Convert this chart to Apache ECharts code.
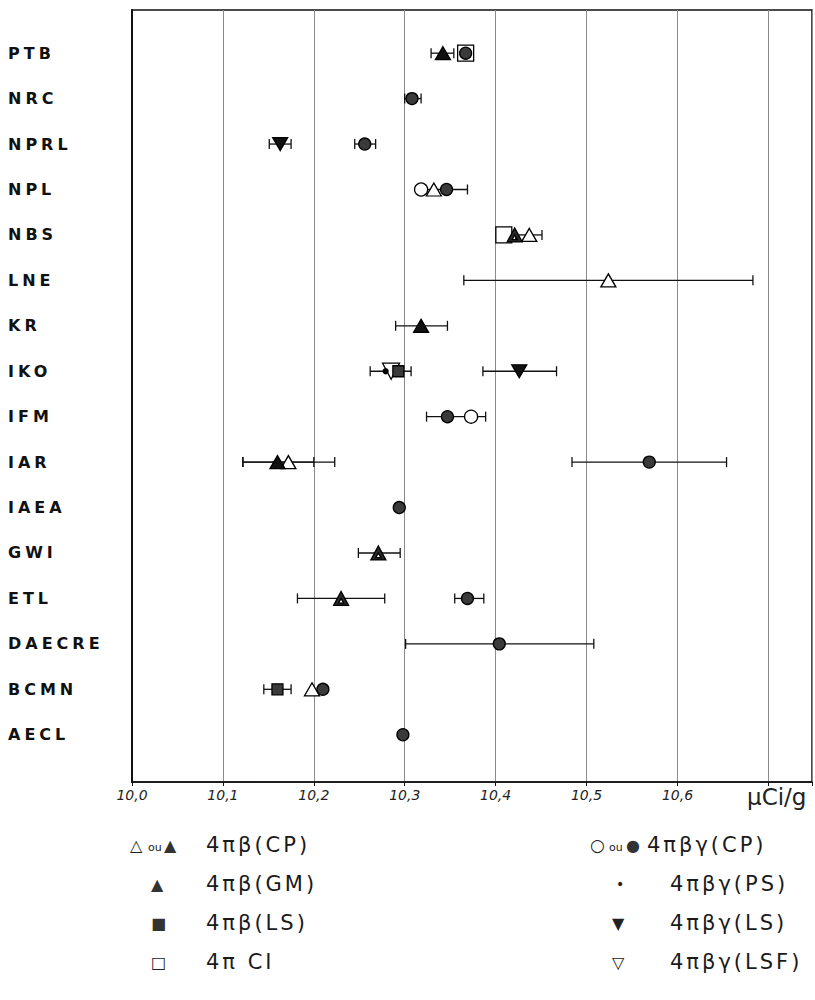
<!DOCTYPE html>
<html>
<head>
<meta charset="utf-8">
<script src="https://cdn.jsdelivr.net/npm/echarts@6/dist/echarts.min.js"></script>
<style>
  html, body { margin: 0; padding: 0; background: #fff; }
  #chart { width: 815px; height: 1000px; }
  /* spaced capitals for lab names and legend labels */
  #chart text[fill="#111"] { letter-spacing: 4px; }
  #chart text[fill="#1a1a1a"] { letter-spacing: 3px; }
</style>
</head>
<body>
<div id="chart"></div>
<script>
// laboratories, top to bottom
const labs = ['PTB', 'NRC', 'NPRL', 'NPL', 'NBS', 'LNE', 'KR', 'IKO', 'IFM', 'IAR', 'IAEA', 'GWI', 'ETL', 'DAECRE', 'BCMN', 'AECL']
const xTicks = [10.0, 10.1, 10.2, 10.3, 10.4, 10.5, 10.6]

// results per method, [lab, µCi/g]
const betaCpOpen = [['NPL', 10.332], ['NBS', 10.437], ['LNE', 10.524], ['IAR', 10.172], ['BCMN', 10.198]]
const betaCpFilled = [['PTB', 10.342], ['KR', 10.318], ['IAR', 10.160]]
const betaGm = [['NBS', 10.421], ['GWI', 10.271], ['ETL', 10.230]]
const betaLs = [['IKO', 10.293], ['BCMN', 10.160]]
const ciOpen = [['PTB', 10.367], ['NBS', 10.409]]
const bgCpOpen = [['NPL', 10.318], ['IFM', 10.373]]
const bgCpFilled = [
  ['PTB', 10.367], ['NRC', 10.308], ['NPRL', 10.256], ['NPL', 10.346], ['IFM', 10.347], ['IAR', 10.569],
  ['IAEA', 10.294], ['ETL', 10.369], ['DAECRE', 10.404], ['BCMN', 10.210], ['AECL', 10.298],
]
const bgPs = [['IKO', 10.279]]
const bgLs = [['NPRL', 10.163], ['IKO', 10.426]]
const bgLsf = [['IKO', 10.285]]

// uncertainty bars, [lab, low, high]
const errorBars = [
  ['PTB', 10.329, 10.354], ['NRC', 10.300, 10.318], ['NPRL', 10.151, 10.175], ['NPRL', 10.245, 10.268],
  ['NPL', 10.323, 10.369], ['NBS', 10.422, 10.451], ['LNE', 10.365, 10.683], ['KR', 10.290, 10.347],
  ['IKO', 10.262, 10.307], ['IKO', 10.386, 10.467], ['IFM', 10.324, 10.389], ['IAR', 10.122, 10.200],
  ['IAR', 10.122, 10.223], ['IAR', 10.484, 10.654], ['GWI', 10.249, 10.295], ['ETL', 10.182, 10.278],
  ['ETL', 10.355, 10.387], ['DAECRE', 10.301, 10.508], ['BCMN', 10.145, 10.175],
]

const row = (lab) => labs.indexOf(lab)
const pts = (list) => list.map(([lab, v]) => [v, row(lab)])

const gmTriangle = 'path://M0,-10L10,8L-10,8Z M0,-1L-3.5,5L3.5,5Z'
const FONT = '"DejaVu Sans", sans-serif'

const scatter = (data, symbol, size, fill, extra = {}) => ({
  type: 'scatter',
  data: pts(data),
  symbol,
  symbolSize: size,
  itemStyle: { color: fill, borderColor: '#000', borderWidth: 1.3, opacity: 1 },
  z: 3,
  ...extra,
})

const legendText = (x, y, text, size, fill) => ({
  type: 'text',
  x,
  y,
  style: { text, fontSize: size, fontFamily: FONT, fill, verticalAlign: 'middle' },
})

const chart = echarts.init(document.getElementById('chart'), null, { renderer: 'svg' })

chart.setOption({
  backgroundColor: '#fff',
  animation: false,
  grid: { left: 132, right: 2, top: 10, bottom: 218, show: true, borderColor: '#111', borderWidth: 1.5 },
  xAxis: {
    type: 'value',
    min: 10.0,
    max: 10.748,
    interval: 0.1,
    axisLine: { show: true, onZero: false, lineStyle: { color: '#111', width: 1.5 } },
    axisTick: { show: true, length: 4, lineStyle: { color: '#111' } },
    splitLine: { show: true, lineStyle: { color: '#8a8a8a', width: 1 } },
    axisLabel: {
      margin: 6,
      fontSize: 14,
      fontStyle: 'italic',
      fontFamily: FONT,
      color: '#222',
      formatter: (v) => {
        const t = xTicks.find((t) => Math.abs(t - v) < 1e-6)
        return t == null ? '' : t.toFixed(1).replace('.', ',')
      },
    },
  },
  yAxis: {
    type: 'value',
    inverse: true,
    min: -0.95,
    max: 16.04,
    axisLine: { show: true, onZero: false, lineStyle: { color: '#111', width: 2 } },
    axisTick: { show: false },
    splitLine: { show: false },
    axisLabel: {
      customValues: labs.map((_, i) => i),
      align: 'left',
      margin: 124,
      fontSize: 16,
      fontWeight: 'bold',
      fontFamily: FONT,
      color: '#111',
      formatter: (v) => labs[Math.round(v)] || '',
    },
  },
  series: [
    {
      type: 'custom',
      data: errorBars.map(([lab, lo, hi]) => [row(lab), lo, hi]),
      encode: { x: [1, 2], y: 0 },
      z: 1,
      renderItem: (params, api) => {
        const r = api.value(0)
        const a = api.coord([api.value(1), r])
        const b = api.coord([api.value(2), r])
        const h = 5
        const style = { stroke: '#111', lineWidth: 1.3 }
        return {
          type: 'group',
          children: [
            { type: 'line', shape: { x1: a[0], y1: a[1], x2: b[0], y2: b[1] }, style },
            { type: 'line', shape: { x1: a[0], y1: a[1] - h, x2: a[0], y2: a[1] + h }, style },
            { type: 'line', shape: { x1: b[0], y1: b[1] - h, x2: b[0], y2: b[1] + h }, style },
          ],
        }
      },
    },
    scatter(ciOpen, 'rect', 16, '#fff', { z: 2 }),
    scatter(bgLsf, 'triangle', [17, 16], '#fff', { symbolRotate: 180 }),
    scatter(betaCpOpen, 'triangle', [15, 13], '#fff'),
    scatter(bgCpOpen, 'circle', 13, '#fff'),
    scatter(betaGm, gmTriangle, [15, 14], '#2a2a2a'),
    scatter(betaCpFilled, 'triangle', [15, 13], '#111'),
    scatter(betaLs, 'rect', 11, '#3a3a3a'),
    scatter(bgLs, 'triangle', [15, 13], '#111', { symbolRotate: 180 }),
    scatter(bgPs, 'circle', 5, '#000'),
    scatter(bgCpFilled, 'circle', 12, '#3a3a3a', { z: 4 }),
  ],
  graphic: [
    { type: 'text', x: 747, y: 797, style: { text: 'µCi/g', fontSize: 23, fontFamily: FONT, fill: '#222', verticalAlign: 'middle' } },
    // left legend column
    legendText(130, 845, '△', 16, '#222'),
    legendText(148, 847, 'ou', 11, '#222'),
    legendText(164, 845, '▲', 16, '#333'),
    legendText(206, 845, '4πβ(CP)', 21, '#1a1a1a'),
    legendText(151, 884, '▲', 16, '#333'),
    legendText(206, 884, '4πβ(GM)', 21, '#1a1a1a'),
    legendText(151, 923, '■', 16, '#333'),
    legendText(206, 923, '4πβ(LS)', 21, '#1a1a1a'),
    legendText(151, 962, '□', 16, '#222'),
    legendText(206, 962, '4π CI', 21, '#1a1a1a'),
    // right legend column
    legendText(590, 845, '○', 17, '#222'),
    legendText(609, 847, 'ou', 11, '#222'),
    legendText(626, 845, '●', 16, '#333'),
    legendText(647, 845, '4πβγ(CP)', 21, '#1a1a1a'),
    legendText(616, 884, '•', 14, '#222'),
    legendText(670, 884, '4πβγ(PS)', 21, '#1a1a1a'),
    legendText(612, 923, '▼', 16, '#222'),
    legendText(670, 923, '4πβγ(LS)', 21, '#1a1a1a'),
    legendText(612, 962, '▽', 16, '#222'),
    legendText(670, 962, '4πβγ(LSF)', 21, '#1a1a1a'),
  ],
})
</script>
</body>
</html>
